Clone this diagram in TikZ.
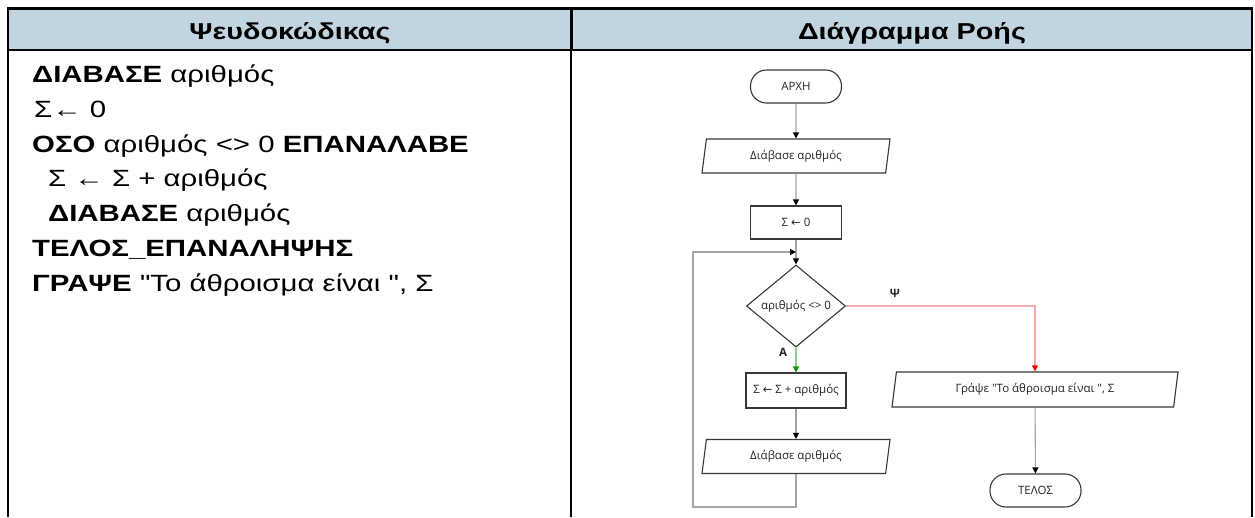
\documentclass[tikz,border=0pt]{standalone}
\usepackage{fontspec}
\setmainfont{Liberation Sans}
\newfontfamily\codefont{Liberation Sans}[FakeStretch=1.25]
\newfontfamily\fcfont{Open Sans}
\newfontfamily\arrfont{DejaVu Sans}
\newcommand{\fcarr}{{\arrfont ←}}
\usetikzlibrary{arrows.meta,shapes.geometric}
\definecolor{hdr}{RGB}{193,212,224}
\definecolor{lnk}{RGB}{165,165,165}
\definecolor{shp}{RGB}{55,55,55}
\definecolor{fctext}{RGB}{35,35,35}
\definecolor{nored}{RGB}{242,170,170}
\definecolor{yesgreen}{RGB}{140,205,140}
\tikzset{
  code/.style={anchor=base west,inner sep=0pt,font=\codefont\fontsize{23.5}{28}\selectfont},
  head/.style={anchor=base,inner sep=0pt,font=\codefont\fontsize{23}{27}\selectfont\bfseries},
  fcfontstyle/.style={font=\fcfont\fontsize{11.5}{13}\selectfont,text=fctext},
  term/.style={draw=shp,line width=1.1pt,rounded corners=16pt,minimum width=91pt,minimum height=33pt,inner sep=0pt,fcfontstyle},
  proc/.style={draw=shp,line width=1.1pt,minimum width=91pt,minimum height=33pt,inner sep=0pt,fcfontstyle},
  io/.style={draw=shp,line width=1.1pt,trapezium,trapezium left angle=70,trapezium right angle=110,trapezium stretches body=true,minimum width=188pt,minimum height=34pt,inner sep=0pt,fcfontstyle},
  dec/.style={draw=shp,line width=1.1pt,diamond,minimum width=99pt,minimum height=66pt,inner sep=0pt,fcfontstyle},
  flow/.style={draw=lnk,line width=1.1pt,-{Triangle[length=6pt,width=6pt,color=black]}},
  lbl/.style={inner sep=0pt,font=\fcfont\fontsize{11.5}{13}\selectfont\bfseries,text=fctext},
}
\begin{document}
\begin{tikzpicture}[x=1pt,y=-1pt]
\useasboundingbox (0,0) rectangle (1255,517);
% table
\fill[hdr] (8,8) rectangle (1252,50);
\draw[line width=3pt] (8,8) -- (1252,8);
\draw[line width=2.5pt] (8,50) -- (1252,50);
\draw[line width=2pt] (8,7) -- (8,517);
\draw[line width=2pt] (1252,7) -- (1252,517);
\draw[line width=3pt] (571,7) -- (571,50);
\draw[line width=1.6pt] (571,50) -- (571,517);
\node[head] (h1) at (290,39) {Ψευδοκώδικας};
\node[head] (h2) at (912,39) {Διάγραμμα Ροής};
% pseudocode
\node[code] (l1) at (32,82) {\textbf{ΔΙΑΒΑΣΕ} αριθμός};
\node[code] (l2) at (34,117) {Σ← 0};
\node[code] (l3) at (32,152) {\textbf{ΟΣΟ} αριθμός <> 0 \textbf{ΕΠΑΝΑΛΑΒΕ}};
\node[code] (l4) at (48,186) {Σ ← Σ + αριθμός};
\node[code] (l5) at (48,221) {\textbf{ΔΙΑΒΑΣΕ} αριθμός};
\node[code] (l6) at (32,256) {\textbf{ΤΕΛΟΣ\_ΕΠΑΝΑΛΗΨΗΣ}};
\node[code] (l7) at (32,291) {\textbf{ΓΡΑΨΕ} "Το άθροισμα είναι ", Σ};
% flowchart
\node[term] (start) at (796,86.5) {ΑΡΧΗ};
\node[io] (p1) at (796,156) {Διάβασε αριθμός};
\node[proc] (s0) at (796,222.5) {Σ \fcarr{} 0};
\node[dec] (d) at (796,306) {αριθμός <> 0};
\node[proc,minimum width=100pt,minimum height=35pt] (s1) at (796,390.5) {Σ \fcarr{} Σ + αριθμός};
\node[io] (p2) at (796,456.5) {Διάβασε αριθμός};
\node[io,minimum width=286pt,minimum height=35pt] (w) at (1035,389.5) {Γράψε "Το άθροισμα είναι ", Σ};
\node[term] (end) at (1035.5,490.5) {ΤΕΛΟΣ};
\node[lbl] (ly) at (895,293) {Ψ};
\node[lbl] (ln) at (783,352) {Α};
\coordinate (join) at (796,252);
\coordinate (lb) at (693,507);
\draw[flow] (start) -- (p1);
\draw[flow] (p1) -- (s0);
\draw[flow] (s0) -- (d);
\draw[flow,draw=yesgreen,-{Triangle[length=6pt,width=6pt,color=green!60!black]}] (d) -- (s1);
\draw[flow] (s1) -- (p2);
\draw[flow] (p2.south) |- (lb) |- (join);
\draw[flow,draw=nored,-{Triangle[length=6pt,width=6pt,color=red]}] (d.east) -| (w.north);
\draw[flow] (w) -- (end);
\end{tikzpicture}
\end{document}
